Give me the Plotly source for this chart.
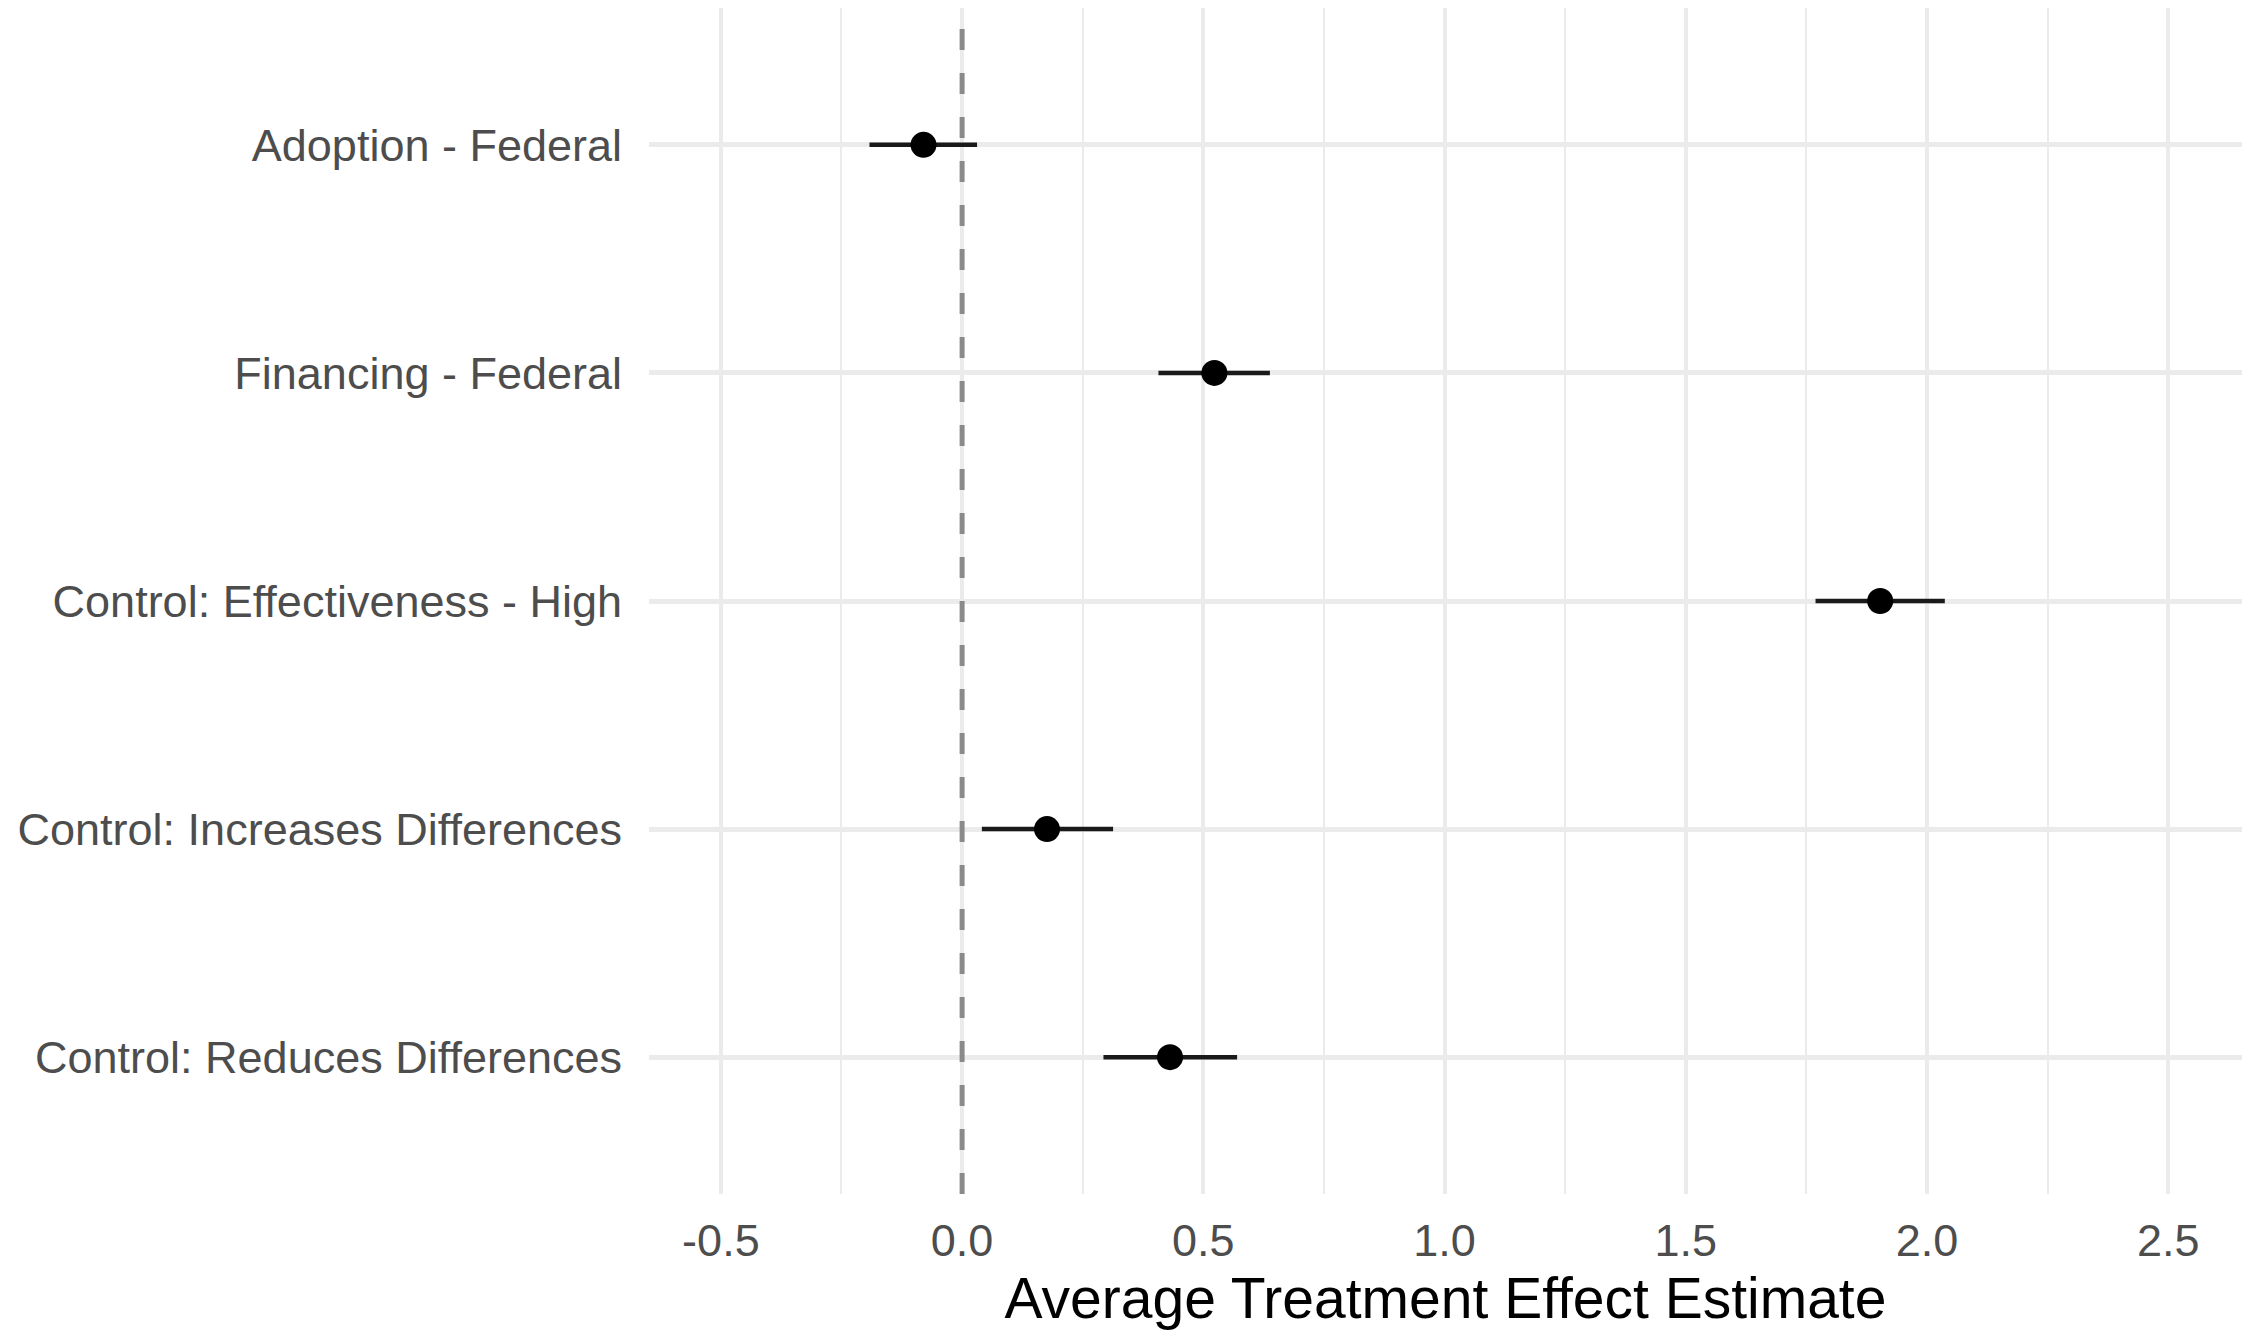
import plotly.graph_objects as go

categories = [
    "Adoption - Federal",
    "Financing - Federal",
    "Control: Effectiveness - High",
    "Control: Increases Differences",
    "Control: Reduces Differences",
]
estimates = [-0.08, 0.523, 1.903, 0.176, 0.431]
ci_low = [-0.192, 0.407, 1.769, 0.041, 0.293]
ci_high = [0.031, 0.638, 2.037, 0.313, 0.570]
x_ticks = [-0.5, 0.0, 0.5, 1.0, 1.5, 2.0, 2.5]

err_plus = [h - e for h, e in zip(ci_high, estimates)]
err_minus = [e - l for e, l in zip(estimates, ci_low)]

FONT = "Liberation Sans, Arial, Helvetica, sans-serif"

fig = go.Figure()
fig.add_vline(x=0, line=dict(color="#8a8a8a", width=5, dash="21px,23px"))
fig.add_trace(go.Scatter(
    x=estimates, y=categories, mode="markers",
    marker=dict(color="black", size=26, line=dict(width=0)),
    error_x=dict(type="data", symmetric=False, array=err_plus, arrayminus=err_minus,
                 color="#1a1a1a", thickness=4.5, width=0),
    showlegend=False, hoverinfo="x+y",
))

fig.update_layout(
    width=2250, height=1337,
    margin=dict(l=649, r=8, t=8, b=143),
    paper_bgcolor="white", plot_bgcolor="white",
    font=dict(family=FONT, color="#4D4D4D"),
    showlegend=False,
)
fig.update_xaxes(
    range=[-0.649, 2.653],
    tickvals=x_ticks, ticktext=[f"{v:.1f}" for v in x_ticks],
    tickfont=dict(size=45, color="#4D4D4D", family=FONT),
    showgrid=True, gridcolor="#EBEBEB", gridwidth=4,
    minor=dict(tickvals=[-0.25, 0.25, 0.75, 1.25, 1.75, 2.25], showgrid=True, gridcolor="#EBEBEB", gridwidth=2),
    zeroline=False, showline=False, ticks="",
    ticklabelstandoff=16,
    title=dict(text="Average Treatment Effect Estimate", font=dict(size=57, color="black", family=FONT), standoff=4),
)
fig.update_yaxes(
    type="category", categoryorder="array", categoryarray=categories[::-1],
    range=[-0.6, 4.6],
    tickfont=dict(size=45, color="#4D4D4D", family=FONT),
    showgrid=True, gridcolor="#EBEBEB", gridwidth=4.5,
    zeroline=False, showline=False, ticks="",
    ticklabelstandoff=26,
)

fig.write_html("out.html")
